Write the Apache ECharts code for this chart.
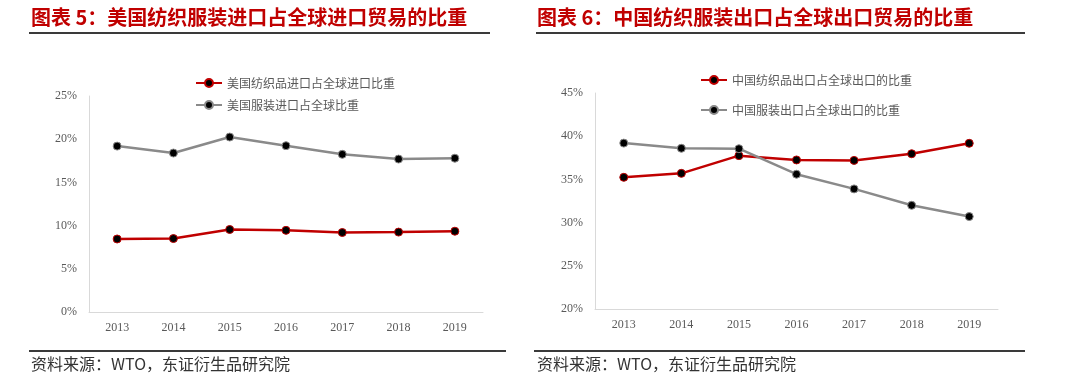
<!DOCTYPE html>
<html><head><meta charset="utf-8">
<script src="https://cdn.jsdelivr.net/npm/echarts@6/dist/echarts.min.js"></script>
<style>html,body{margin:0;padding:0;background:#fff}#c{width:1080px;height:389px}</style>
</head><body><div id="c"></div>
<script>
const years = ['2013','2014','2015','2016','2017','2018','2019'];
const usTextileImport = [8.45, 8.5, 9.55, 9.45, 9.2, 9.25, 9.35];
const usApparelImport = [19.2, 18.4, 20.25, 19.25, 18.25, 17.7, 17.8];
const cnTextileExport = [35.24, 35.7, 37.75, 37.25, 37.2, 37.97, 39.18];
const cnApparelExport = [39.2, 38.6, 38.55, 35.6, 33.9, 32.0, 30.7];
const leftTitle = '图表 5：美国纺织服装进口占全球进口贸易的比重';
const rightTitle = '图表 6：中国纺织服装出口占全球出口贸易的比重';
const sourceText = '资料来源：WTO，东证衍生品研究院';
const names = ['美国纺织品进口占全球进口比重','美国服装进口占全球比重','中国纺织品出口占全球出口的比重','中国服装出口占全球出口的比重'];

const RED = '#c00000', GRAY = '#8a8a8a';
const serif = 'Liberation Serif, Times New Roman, serif';
const axisLab = {color:'#595959', fontFamily: serif, fontSize: 12};
const cjk = 'Noto Sans CJK SC';

function xAx(gi){return {type:'category', gridIndex:gi, data:years, boundaryGap:true,
  axisLine:{lineStyle:{color:'#d9d9d9'}}, axisTick:{inside:true,length:4,lineStyle:{color:'#d9d9d9'}},
  axisLabel:Object.assign({margin:10}, axisLab)};}
function yAx(gi,min,max){return {type:'value', gridIndex:gi, min:min, max:max, interval:5,
  axisLine:{show:true,lineStyle:{color:'#d9d9d9'}}, axisTick:{show:false}, splitLine:{show:false},
  axisLabel:Object.assign({formatter:'{value}%', margin:12}, axisLab)};}
function ser(name, data, gi, color){return {name:name, type:'line', xAxisIndex:gi, yAxisIndex:gi, data:data,
  symbol:'circle', symbolSize:8, lineStyle:{color:color,width:2.5},
  itemStyle:{color:'#000', borderColor:color, borderWidth:1}};}

const chart = echarts.init(document.getElementById('c'));
chart.setOption({
  animation:false,
  grid:[{left:89, top:96, width:394, height:216},{left:595, top:93, width:403, height:216}],
  xAxis:[xAx(0), xAx(1)],
  yAxis:[yAx(0,0,25), yAx(1,20,45)],
  legend:[
    {data:[names[0],names[1]], left:190, top:72, orient:'vertical', itemGap:10, itemWidth:26, itemHeight:10,
     textStyle:{fontFamily:cjk, fontSize:12, color:'#595959'}},
    {data:[names[2],names[3]], left:695, top:69, orient:'vertical', itemGap:18, itemWidth:26, itemHeight:10,
     textStyle:{fontFamily:cjk, fontSize:12, color:'#595959'}}
  ],
  series:[
    ser(names[0], usTextileImport, 0, RED),
    ser(names[1], usApparelImport, 0, GRAY),
    ser(names[2], cnTextileExport, 1, RED),
    ser(names[3], cnApparelExport, 1, GRAY)
  ],
  graphic:[
    {type:'text', left:31, top:7, style:{text:leftTitle, fill:RED, font:'bold 20px "Noto Sans CJK SC"'}},
    {type:'text', left:537, top:7, style:{text:rightTitle, fill:RED, font:'bold 20px "Noto Sans CJK SC"'}},
    {type:'rect', shape:{x:29, y:32, width:461, height:2}, style:{fill:'#3a3a3a'}},
    {type:'rect', shape:{x:536, y:32, width:489, height:2}, style:{fill:'#3a3a3a'}},
    {type:'rect', shape:{x:29, y:350, width:477, height:2}, style:{fill:'#3a3a3a'}},
    {type:'rect', shape:{x:534, y:350, width:491, height:2}, style:{fill:'#3a3a3a'}},
    {type:'text', left:31, top:356, style:{text:sourceText, fill:'#333', font:'16px "Noto Sans CJK SC"'}},
    {type:'text', left:537, top:356, style:{text:sourceText, fill:'#333', font:'16px "Noto Sans CJK SC"'}}
  ]
});
</script></body></html>
